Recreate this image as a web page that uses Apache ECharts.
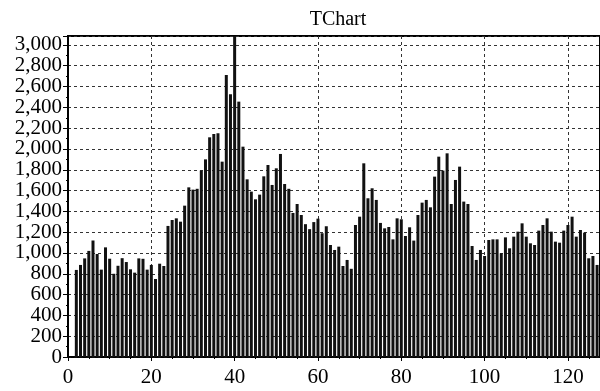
<!DOCTYPE html>
<html>
<head>
<meta charset="utf-8">
<script src="https://cdn.jsdelivr.net/npm/echarts@6/dist/echarts.min.js"></script>
<style>
html,body{margin:0;padding:0;background:#fff;}
#c{width:600px;height:391px;}
</style>
</head>
<body>
<div id="c"></div>
<script>
const chartTitle = 'TChart';
const firstX = 2;
const values = [
  837, 885, 948, 1020, 1120, 990, 840, 1054, 945, 800,
  877, 950, 913, 843, 811, 948, 944, 840, 885, 750,
  897, 875, 1260, 1317, 1333, 1301, 1455, 1631, 1609, 1617,
  1792, 1900, 2112, 2144, 2151, 1878, 2711, 2527, 3300, 2455,
  2022, 1708, 1590, 1516, 1561, 1737, 1846, 1654, 1814, 1952,
  1663, 1617, 1385, 1471, 1365, 1277, 1229, 1297, 1330, 1190,
  1257, 1077, 1029, 1061, 875, 933, 848, 1269, 1349, 1862,
  1526, 1622, 1510, 1289, 1237, 1250, 1131, 1333, 1324, 1163,
  1247, 1119, 1365, 1484, 1510, 1439, 1734, 1926, 1792, 1958,
  1471, 1702, 1830, 1494, 1471, 1067, 933, 1029, 971, 1125,
  1131, 1131, 997, 1150, 1045, 1157, 1205, 1285, 1157, 1093,
  1077, 1215, 1269, 1333, 1205, 1109, 1099, 1215, 1269, 1349,
  1157, 1221, 1195, 949, 971, 885
];
const xTicks = [0, 20, 40, 60, 80, 100, 120];
const yTicks = [0, 200, 400, 600, 800, 1000, 1200, 1400, 1600, 1800, 2000, 2200, 2400, 2600, 2800, 3000];

const seriesData = values.map((v, i) => [firstX + i, v]);
const font = 'Liberation Serif';

const chart = echarts.init(document.getElementById('c'), null, {renderer: 'canvas'});
chart.setOption({
  animation: false,
  backgroundColor: '#ffffff',
  title: {
    text: chartTitle,
    left: 333,
    top: 5,
    textAlign: 'center',
    textStyle: {fontFamily: font, fontSize: 20, fontWeight: 'normal', color: '#000'}
  },
  grid: {
    left: 68, right: -2, top: 36, bottom: 34,
    show: true, borderColor: '#000', borderWidth: 2, containLabel: false
  },
  xAxis: {
    type: 'value',
    min: 0, max: 127.7, interval: 20,
    axisLine: {show: true, onZero: false, lineStyle: {color: '#000', width: 1.5}},
    axisTick: {show: true, length: 4, lineStyle: {color: '#000'}},
    minorTick: {show: true, splitNumber: 4, length: 2, lineStyle: {color: '#000'}},
    axisLabel: {
      fontFamily: font, fontSize: 21, color: '#000', margin: 10,
      formatter: v => (xTicks.indexOf(v) >= 0 ? String(v) : ''),
      showMaxLabel: false
    },
    splitLine: {show: true, lineStyle: {color: '#333', type: [3, 3], width: 1}}
  },
  yAxis: {
    type: 'value',
    min: 0, max: 3086, interval: 200,
    axisLine: {show: true, onZero: false, lineStyle: {color: '#000', width: 2}},
    axisTick: {show: true, length: 5, lineStyle: {color: '#000'}},
    minorTick: {show: true, splitNumber: 2, length: 2, lineStyle: {color: '#000'}},
    axisLabel: {
      fontFamily: font, fontSize: 21, color: '#000', margin: 6,
      formatter: v => (yTicks.indexOf(v) >= 0 ? v.toLocaleString('en-US') : ''),
      showMaxLabel: false
    },
    splitLine: {show: true, lineStyle: {color: '#333', type: [3, 3], width: 1}}
  },
  series: [{
    type: 'bar',
    data: seriesData,
    barWidth: 3,
    clip: true,
    itemStyle: {color: '#111'}
  }]
});
</script>
</body>
</html>
